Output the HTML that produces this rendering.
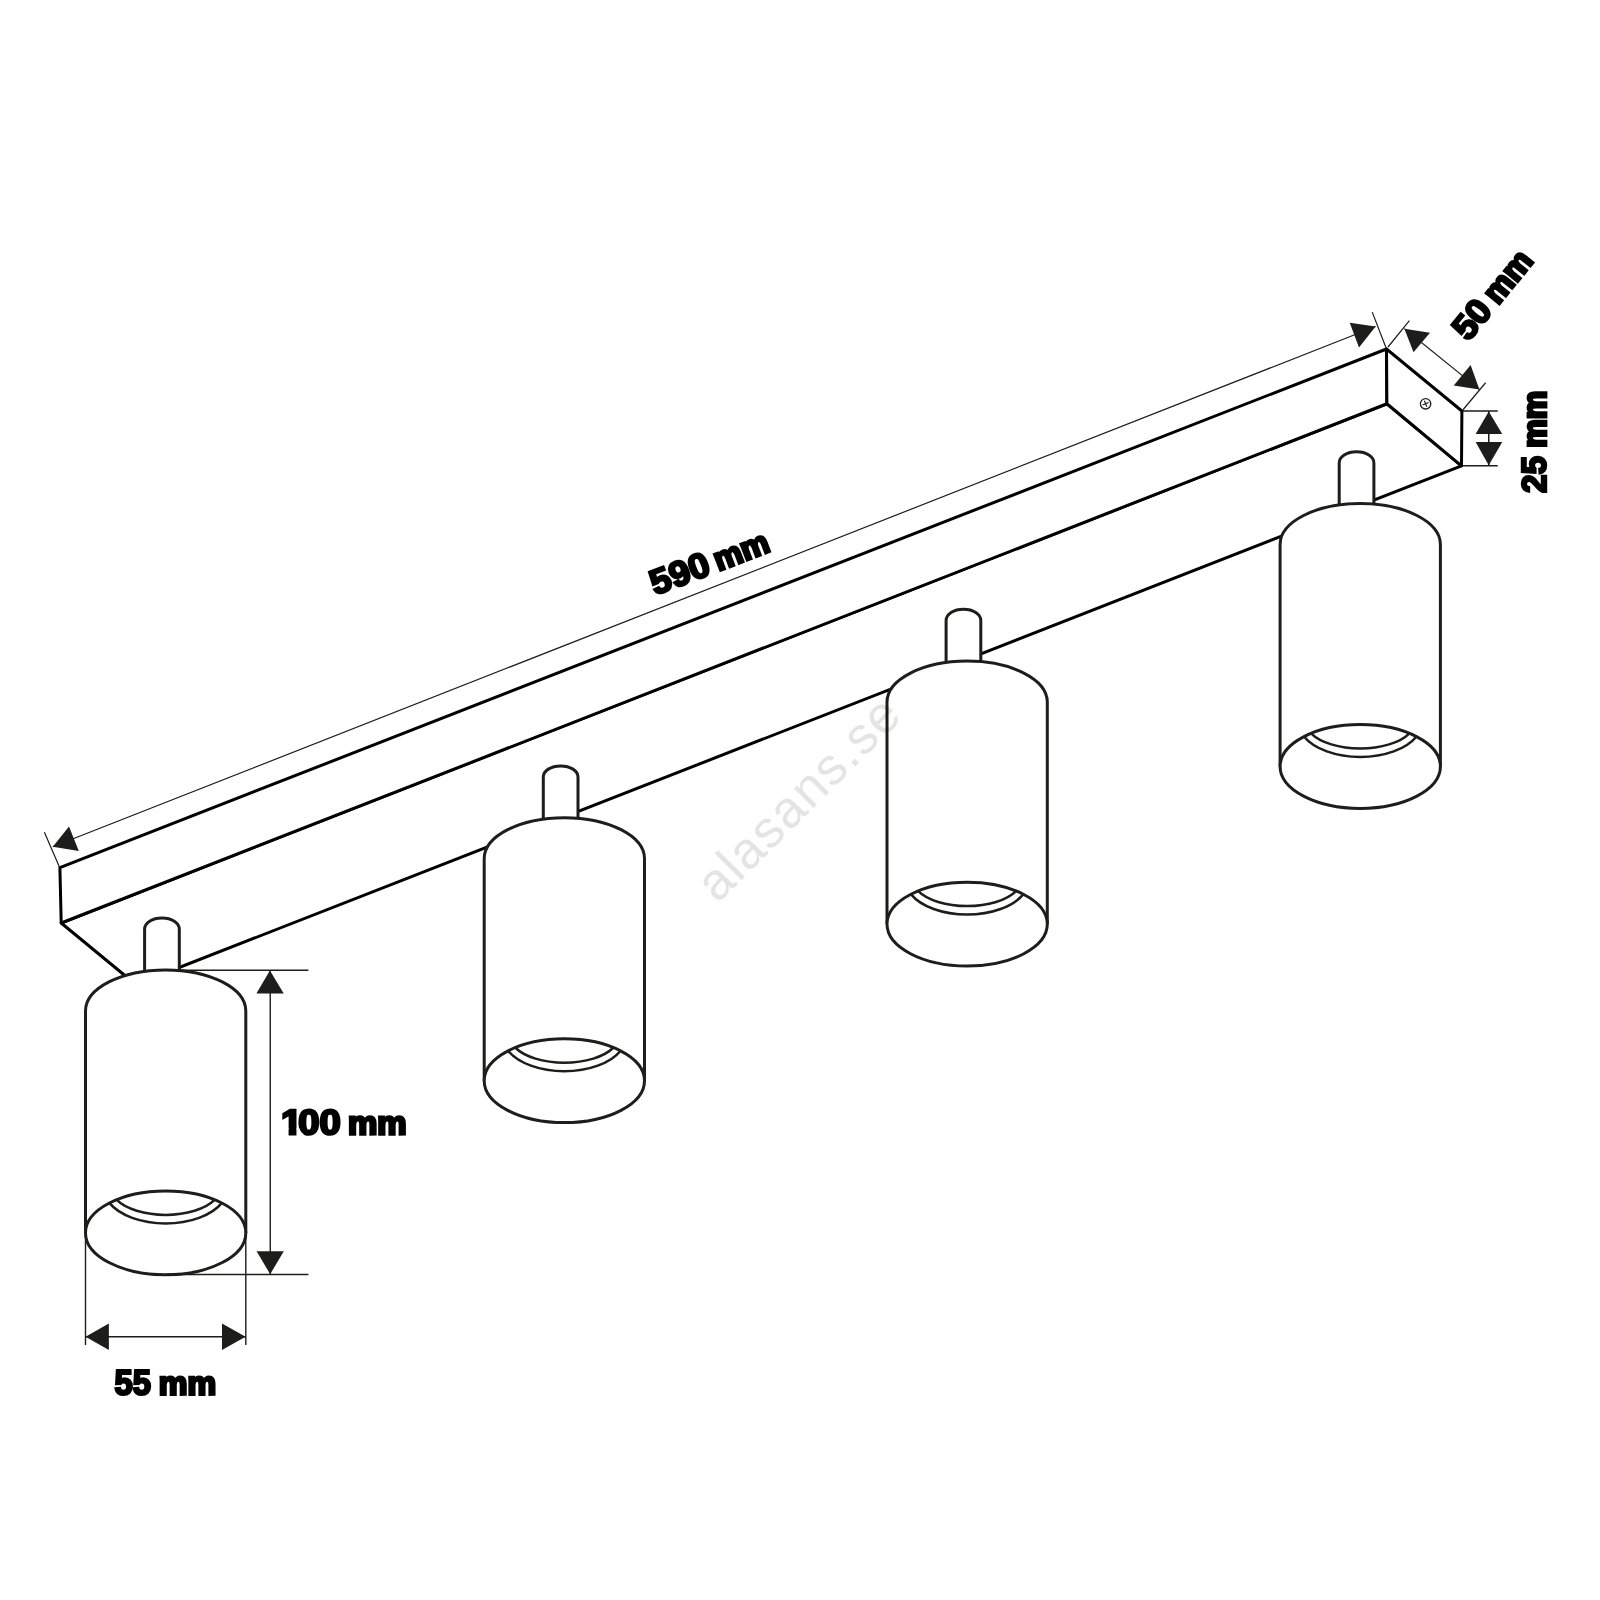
<!DOCTYPE html>
<html lang="sv">
<head>
<meta charset="utf-8">
<title>alasans.se</title>
<style>
html,body{margin:0;padding:0;background:#fff;}
body{width:1600px;height:1600px;overflow:hidden;}
svg{display:block;}
.bar{fill:#fff;stroke:#000;stroke-width:3;stroke-linejoin:round;stroke-linecap:round;}
.lamp{fill:#fff;stroke:#1d1d1b;stroke-width:3;stroke-linejoin:round;stroke-linecap:butt;}
.arc{fill:none;stroke:#1d1d1b;stroke-width:2.5;stroke-linecap:butt;}
.thin{fill:none;stroke:#1d1d1b;stroke-width:1.2;}
.dim{fill:none;stroke:#1d1d1b;stroke-width:1.4;}
.ah{fill:#1d1d1b;stroke:none;}
.lbl{font-family:"Liberation Sans",sans-serif;font-weight:700;font-size:35px;fill:#000;stroke:#000;stroke-linejoin:miter;stroke-miterlimit:3;}
.wm{font-family:"Liberation Sans",sans-serif;font-weight:400;font-size:52px;fill:#e4e4e4;}
</style>
</head>
<body>
<svg width="1600" height="1600" viewBox="0 0 1600 1600">
<defs>
<g id="lamp">
<path class="lamp" d="M59.10,6 V-40.60 C59.10,-46.93 66.65,-51.80 76.45,-51.80 C86.25,-51.80 93.80,-46.93 93.80,-40.60 V6 Z"/>
<path class="lamp" d="M0,263 V41 C0,18.36 35.88,0 80.15,0 C124.42,0 160.30,18.36 160.30,41 V263" />
<ellipse class="lamp" cx="80.15" cy="263" rx="80.15" ry="41.9"/>
<path class="arc" d="M30.95,229.8 A55,27.5 0 0 0 129.35,229.8"/>
<path class="arc" d="M23.85,233 A62,35.3 0 0 0 136.45,233"/>
</g>
</defs>
<rect width="1600" height="1600" fill="#fff"/>

<!-- bar -->
<path class="bar" d="M61.2,923 L135.8,984.5 L1461.5,465.8 L1386.9,403.75 Z"/>
<path class="bar" d="M59.9,867.6 L1386.5,349 L1386.9,403.75 L61.2,923 Z"/>
<path class="bar" d="M1386.5,349 L1461.9,411 L1461.5,465.8 L1386.9,403.75 Z"/>
<!-- screw -->
<circle cx="1425.6" cy="403.8" r="5.2" fill="none" stroke="#1d1d1b" stroke-width="1.3"/>
<path d="M1422.6,405 L1428.6,402.6 M1424.4,400.8 L1426.8,406.8" fill="none" stroke="#1d1d1b" stroke-width="1.1"/>

<!-- lamps -->
<use href="#lamp" x="1280.1" y="503.5"/>
<use href="#lamp" x="887" y="661.1"/>
<use href="#lamp" x="484.2" y="817.7"/>
<use href="#lamp" x="85.5" y="969.9"/>

<!-- 590 dimension -->
<path class="thin" d="M59.4,866.9 L44.4,832.3 M1386.3,348.5 L1372.25,312.1 M52.8,846.8 L1375.6,326.5"/>
<polygon class="ah" points="52.8,846.8 69,826.5 78.8,851"/>
<polygon class="ah" points="1375.6,326.5 1349.75,322.75 1359,347.5"/>

<!-- 50 dimension -->
<path class="thin" d="M1388,347 L1409.4,320.6 M1463,409.75 L1485.6,382.75 M1404.4,328.75 L1479.4,389.4"/>
<polygon class="ah" points="1404.4,328.75 1430,332.75 1413.5,352.25"/>
<polygon class="ah" points="1479.4,389.4 1470.6,365 1453.75,385.4"/>

<!-- 25 dimension -->
<path class="thin" style="stroke-width:1.5" d="M1463,411 H1497.75 M1463,465.75 H1497.75 M1488.75,411 V465.6"/>
<polygon class="ah" points="1488.75,411.6 1475.6,434.1 1502.25,434.1"/>
<polygon class="ah" points="1488.75,465.25 1475.6,442.1 1502.25,442.1"/>

<!-- 100 dimension -->
<path class="dim" d="M179.8,970.3 H308.4 M166,1274.5 H308.4 M270.25,970 V1274"/>
<polygon class="ah" points="269.9,970.5 256.4,993.4 283.75,993.4"/>
<polygon class="ah" points="270.2,1274.2 256.6,1251.25 283.8,1251.25"/>

<!-- 55 dimension -->
<path class="dim" d="M85.5,1233 V1345 M245.8,1233 V1345 M85.5,1336.7 H245.6"/>
<polygon class="ah" points="85.5,1336.7 108.9,1323.4 108.9,1350"/>
<polygon class="ah" points="245.6,1336.7 222,1323.4 222,1350"/>

<!-- labels -->
<g transform="translate(114.40,1395.90) rotate(-0.03)"><text class="lbl" stroke-width="2.40" transform="translate(0.11,-1.36) scale(0.9375,1.0044)">55 </text><text class="lbl" stroke-width="3.00" transform="translate(44.35,-1.40) scale(0.9218,0.9330)">mm</text></g>
<g transform="translate(282.25,1135.60) rotate(-0.03)"><g transform="translate(-1.31,-1.36) scale(1.0956,1.0044)"><text class="lbl" stroke-width="2.40">1<tspan dx="-3.65">00 </tspan></text><path d="M-0.30,-6.07 H6.97 V2.60 H-0.30 Z M14.17,-6.07 L16.71,-6.07 L17.12,-4.99 L17.62,-3.90 L18.24,-2.82 L19.00,-1.74 L19.98,-0.65 L20.99,0.43 L20.99,1.52 L20.99,2.60 L14.17,2.60 Z" fill="#fff"/></g><text class="lbl" stroke-width="3.00" transform="translate(65.74,-1.40) scale(0.9424,0.9330)">mm</text></g>
<g transform="translate(655.75,596.85) rotate(-21.00)"><text class="lbl" stroke-width="2.40" transform="translate(0.12,-1.36) scale(1.0487,1.0044)">590 </text><text class="lbl" stroke-width="3.00" transform="translate(67.76,-1.40) scale(0.9152,0.9330)">mm</text></g>
<g transform="translate(1469.45,343.25) rotate(-50.90)"><text class="lbl" stroke-width="2.40" transform="translate(0.12,-1.36) scale(1.0258,1.0044)">50 </text><text class="lbl" stroke-width="3.00" transform="translate(47.05,-1.40) scale(0.9251,0.9330)">mm</text></g>
<g transform="translate(1547.20,493.00) rotate(-90.00)"><text class="lbl" stroke-width="2.40" transform="translate(-0.02,-1.36) scale(0.9510,1.0044)">25 </text><text class="lbl" stroke-width="3.00" transform="translate(45.26,-1.40) scale(0.9185,0.9330)">mm</text></g>
<!-- watermark -->
<g transform="translate(717.4,904.1) rotate(-45)" style="mix-blend-mode:multiply">
<text class="wm" x="0" y="0" textLength="263" lengthAdjust="spacing">alasans.se</text>
</g>

</svg>
</body>
</html>
